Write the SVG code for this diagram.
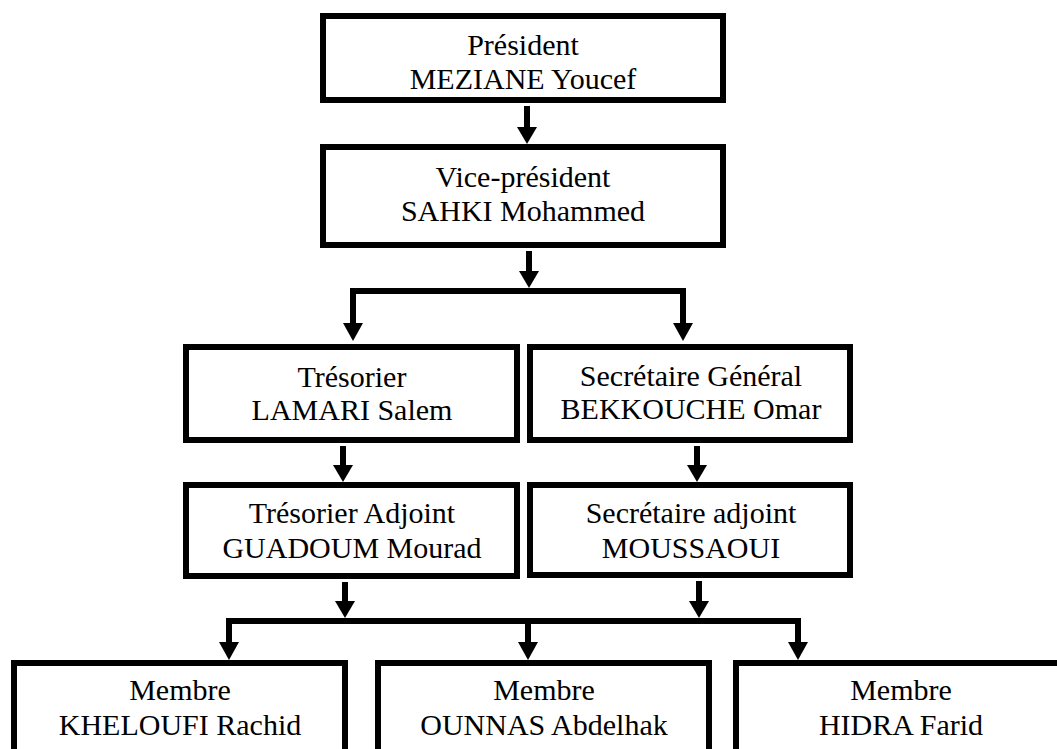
<svg xmlns="http://www.w3.org/2000/svg" width="1057" height="749" viewBox="0 0 1057 749">
<style>
.box{fill:#fff;stroke:#000;stroke-width:6}
.t{font-family:"Liberation Serif","Times New Roman",serif;font-size:30px;fill:#000;text-anchor:middle}
.c{fill:none;stroke:#000;stroke-width:6;stroke-linejoin:miter}
</style>
<rect width="1057" height="749" fill="#fff"/>
<g id="connectors">
<path class="c" d="M527,106 V131"/>
<polygon points="517,127 537,127 527,144" fill="#000"/>
<path class="c" d="M529,251 V274"/>
<polygon points="519,271 539,271 529,288" fill="#000"/>
<path class="c" d="M353,326 V291 H683 V326"/>
<polygon points="343,323 363,323 353,341" fill="#000"/>
<polygon points="673,323 693,323 683,341" fill="#000"/>
<path class="c" d="M343,446 V468"/>
<polygon points="333,465 353,465 343,482" fill="#000"/>
<path class="c" d="M697,446 V468"/>
<polygon points="687,465 707,465 697,482" fill="#000"/>
<path class="c" d="M345,582 V604"/>
<polygon points="335,601 355,601 345,618" fill="#000"/>
<path class="c" d="M699,581 V604"/>
<polygon points="689,601 709,601 699,618" fill="#000"/>
<path class="c" d="M229,645 V621 H798 V645"/>
<path class="c" d="M528,621 V645"/>
<polygon points="219,642 239,642 229,660" fill="#000"/>
<polygon points="518,642 538,642 528,660" fill="#000"/>
<polygon points="788,642 808,642 798,660" fill="#000"/>
</g>
<g id="president">
<rect class="box" x="323" y="16" width="400" height="84"/>
<text class="t" x="523" y="55">Président</text>
<text class="t" x="523" y="89">MEZIANE Youcef</text>
</g>
<g id="vice-president">
<rect class="box" x="323" y="147" width="400" height="98"/>
<text class="t" x="523" y="187">Vice-président</text>
<text class="t" x="523" y="221">SAHKI Mohammed</text>
</g>
<g id="tresorier">
<rect class="box" x="186" y="347" width="331" height="93"/>
<text class="t" x="352" y="387">Trésorier</text>
<text class="t" x="352" y="420">LAMARI Salem</text>
</g>
<g id="secretaire-general">
<rect class="box" x="530" y="347" width="320" height="93"/>
<text class="t" x="691" y="386">Secrétaire Général</text>
<text class="t" x="691" y="419">BEKKOUCHE Omar</text>
</g>
<g id="tresorier-adjoint">
<rect class="box" x="186" y="485" width="331" height="91"/>
<text class="t" x="352" y="523">Trésorier Adjoint</text>
<text class="t" x="352" y="558">GUADOUM Mourad</text>
</g>
<g id="secretaire-adjoint">
<rect class="box" x="530" y="485" width="320" height="90"/>
<text class="t" x="691" y="523">Secrétaire adjoint</text>
<text class="t" x="691" y="558">MOUSSAOUI</text>
</g>
<g id="membre1">
<rect class="box" x="14" y="663" width="331" height="110"/>
<text class="t" x="180" y="700">Membre</text>
<text class="t" x="180" y="735">KHELOUFI Rachid</text>
</g>
<g id="membre2">
<rect class="box" x="378" y="663" width="331" height="110"/>
<text class="t" x="544" y="700">Membre</text>
<text class="t" x="544" y="735">OUNNAS Abdelhak</text>
</g>
<g id="membre3">
<rect class="box" x="736" y="663" width="331" height="110"/>
<text class="t" x="901" y="700">Membre</text>
<text class="t" x="901" y="735">HIDRA Farid</text>
</g>
</svg>
